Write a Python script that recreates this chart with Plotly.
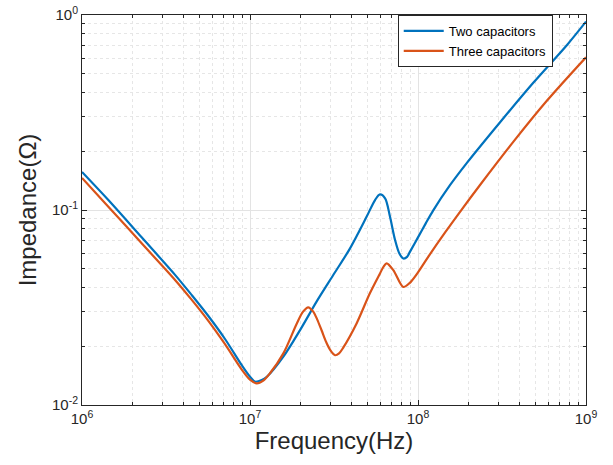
import plotly.graph_objects as go

# frequency (Hz) and impedance (ohm)
freq_two = [1.0e6, 1.435e6, 2.265e6, 3.58e6, 4.49e6, 5.65e6, 7.10e6, 8.93e6,
            1.0e7, 1.07e7, 1.175e7, 1.26e7, 1.58e7, 1.99e7, 2.49e7, 3.13e7,
            3.94e7, 4.95e7, 5.55e7, 5.94e7, 6.37e7, 6.81e7, 7.30e7, 7.76e7,
            8.18e7, 8.61e7, 8.95e7, 1.0e8, 1.11e8, 1.23e8, 1.55e8, 1.96e8,
            3.08e8, 4.84e8, 7.71e8, 1.0e9]
z_two = [0.1567, 0.1125, 0.0724, 0.0465, 0.0367, 0.0286, 0.0218, 0.0160,
         0.01396, 0.01318, 0.01343, 0.01396, 0.0177, 0.0243, 0.0339, 0.0464,
         0.0636, 0.0925, 0.1125, 0.1202, 0.1148, 0.0925, 0.0702, 0.0596,
         0.0564, 0.0575, 0.0610, 0.0724, 0.0851, 0.0993, 0.134, 0.175,
         0.282, 0.448, 0.702, 0.925]

freq_three = [1.0e6, 1.435e6, 2.265e6, 3.58e6, 4.49e6, 5.65e6, 7.10e6, 8.93e6,
              1.0e7, 1.096e7, 1.20e7, 1.315e7, 1.58e7, 1.90e7, 2.07e7, 2.22e7,
              2.38e7, 2.51e7, 2.67e7, 2.85e7, 3.02e7, 3.21e7, 3.39e7, 3.59e7,
              4.31e7, 5.17e7, 5.94e7, 6.24e7, 6.51e7, 7.13e7, 8.18e7, 8.91e7,
              1.0e8, 1.15e8, 1.45e8, 1.82e8, 2.34e8, 3.69e8, 5.83e8, 1.0e9]
z_three = [0.146, 0.104, 0.0675, 0.0438, 0.0347, 0.0270, 0.0205, 0.0152,
           0.01349, 0.0129, 0.01334, 0.01455, 0.0184, 0.0262, 0.0301, 0.0317,
           0.0301, 0.0275, 0.0241, 0.0209, 0.0190, 0.0180, 0.0184, 0.0197,
           0.0262, 0.0374, 0.0473, 0.0513, 0.0533, 0.0492, 0.0403, 0.0422,
           0.0479, 0.0575, 0.0767, 0.1005, 0.1343, 0.2234, 0.362, 0.607]

x_ticks = [1e6, 1e7, 1e8, 1e9]
x_labels = ["10<sup>6</sup>", "10<sup>7</sup>", "10<sup>8</sup>", "10<sup>9</sup>"]
y_ticks = [1e-2, 1e-1, 1e0]
y_labels = ["10<sup>-2</sup>", "10<sup>-1</sup>", "10<sup>0</sup>"]

FONT = "Liberation Sans, Arial, sans-serif"
AXIS_COLOR = "#262626"

fig = go.Figure()
fig.add_trace(go.Scatter(x=freq_two, y=z_two, mode="lines", name="Two capacitors",
                         line=dict(color="#0072BD", width=2.2, shape="spline", smoothing=0.9)))
fig.add_trace(go.Scatter(x=freq_three, y=z_three, mode="lines", name="Three capacitors",
                         line=dict(color="#D95319", width=2.2, shape="spline", smoothing=0.9)))

axis_common = dict(
    type="log",
    showline=True, linecolor=AXIS_COLOR, linewidth=1, mirror="allticks",
    ticks="inside", ticklen=5, tickcolor=AXIS_COLOR,
    showgrid=True, gridcolor="#e3e3e3", gridwidth=1,
    zeroline=False, automargin=False,
    tickfont=dict(family=FONT, size=15, color=AXIS_COLOR),
    minor=dict(ticks="inside", ticklen=3, tickcolor=AXIS_COLOR, dtick="D1",
               showgrid=True, gridcolor="#e6e6e6", griddash="dot"),
)

fig.update_xaxes(axis_common, range=[6, 9], tickmode="array",
                 tickvals=x_ticks, ticktext=x_labels,
                 title=dict(text="Frequency(Hz)", font=dict(family=FONT, size=24, color=AXIS_COLOR),
                            standoff=6))
fig.update_yaxes(axis_common, range=[-2, 0], tickmode="array",
                 tickvals=y_ticks, ticktext=y_labels,
                 title=dict(text="Impedance(Ω)", font=dict(family=FONT, size=24, color=AXIS_COLOR),
                            standoff=8))

fig.update_layout(
    width=613, height=465,
    margin=dict(l=82, r=27, t=15, b=60),
    paper_bgcolor="white", plot_bgcolor="white",
    showlegend=True,
    legend=dict(x=0.934, y=1, xanchor="right", yanchor="top",
                bgcolor="white", bordercolor=AXIS_COLOR, borderwidth=1,
                font=dict(family=FONT, size=13, color="black"),
                tracegroupgap=0, itemwidth=40),
)

fig.write_html("out.html", config={"displayModeBar": False},
               post_script="document.body.style.margin = '0';")
